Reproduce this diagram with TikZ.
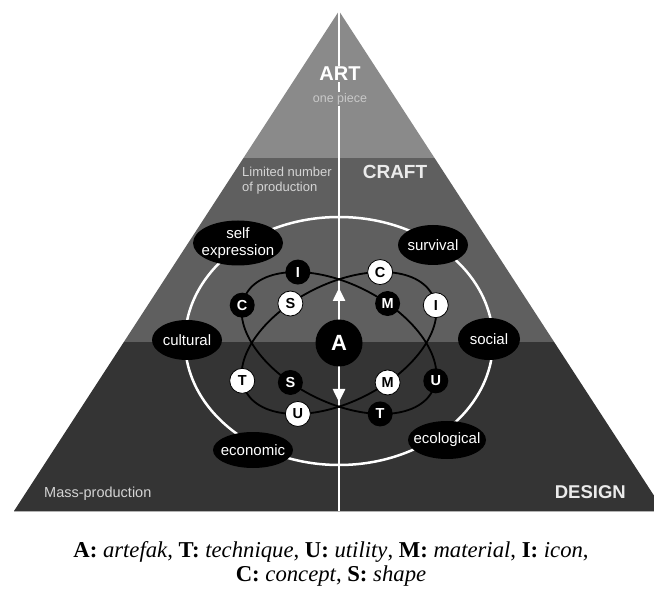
\documentclass[tikz,border=0pt]{standalone}
\usepackage{fontspec}
\setmainfont{Liberation Serif}
\setsansfont{Liberation Sans}
\usetikzlibrary{calc}
\usetikzlibrary{arrows.meta}
\usetikzlibrary{shapes.geometric}
\definecolor{artgray}{RGB}{138,138,138}
\definecolor{craftgray}{RGB}{95,95,95}
\definecolor{designgray}{RGB}{52,52,52}
\definecolor{softwhite}{RGB}{212,212,212}

\begin{document}
\begin{tikzpicture}[x=1pt, y=1pt,
  blackdot/.style={circle, fill=black, text=white, minimum size=25pt, inner sep=0, font=\sffamily\bfseries\fontsize{14.5}{14.5}\selectfont},
  whitedot/.style={circle, fill=white, draw=black, line width=.8pt, text=black, minimum size=25pt, inner sep=0, font=\sffamily\bfseries\fontsize{14.5}{14.5}\selectfont},
  value/.style={ellipse, fill=black, text=white, inner xsep=-6pt, inner ysep=0, font=\sffamily\fontsize{15}{17}\selectfont, align=center},
  orbit/.style={black, line width=1.8pt}]
\useasboundingbox (0,0) rectangle (654,590);
\coordinate (top) at (339,579);
\coordinate (bl) at (14,79);
\coordinate (br) at (664,79);
\coordinate (bm) at (339,79);
\begin{scope}
\clip (top)--(bl)--(br)--cycle;
\fill[designgray] (0,79) rectangle (664,248);
\fill[craftgray] (0,248) rectangle (664,432);
\fill[artgray] (0,432) rectangle (664,590);
\end{scope}
\draw[gray!60, line width=1pt] (bl)--(br);
\draw[white, line width=2.5pt] (top)--(bm);
% bands
\node[fill=artgray, text=white, inner sep=1, font=\sffamily\bfseries\fontsize{20}{20}\selectfont] (art) at (340,516) {ART};
\node[fill=artgray, text=softwhite!85!artgray, inner sep=1, font=\sffamily\fontsize{12.5}{12.5}\selectfont] (piece) at (340,491) {one piece};
\node[anchor=west, align=left, text=softwhite, inner sep=0, font=\sffamily\fontsize{13}{15}\selectfont] (limit) at (242,409) {Limited number\\of production};
\node[text=white!92!black, font=\sffamily\bfseries\fontsize{19}{19}\selectfont] (craft) at (395,418) {CRAFT};
\node[anchor=west, text=softwhite, inner sep=0, font=\sffamily\fontsize{14.5}{15}\selectfont] (mass) at (44,96) {Mass-production};
\node[anchor=east, text=white!92!black, inner sep=0, font=\sffamily\bfseries\fontsize{18.5}{18.5}\selectfont] (design) at (626,98) {DESIGN};
% values ring
\draw[white, line width=2.5pt] (339,249) ellipse [x radius=154, y radius=124];
\node[value, minimum width=90pt, minimum height=45pt] (self) at (238,347) {self\\expression};
\node[value, minimum width=70pt, minimum height=40pt] (surv) at (433,345) {survival};
\node[value, minimum width=70pt, minimum height=40pt] (cult) at (187,250) {cultural};
\node[value, minimum width=62pt, minimum height=42pt] (soc) at (489,251) {social};
\node[value, minimum width=80pt, minimum height=36pt] (econ) at (253,140) {economic};
\node[value, minimum width=78pt, minimum height=38pt] (ecol) at (447,150) {ecological};
% the two orbits
\draw[orbit, shift={(339,247)}, rotate=27] (0,0) ellipse [x radius=105, y radius=59];
\draw[orbit, shift={(339,247)}, rotate=-27] (0,0) ellipse [x radius=105, y radius=59];
\begin{scope}[shift={(339,247)}, rotate=27]
\foreach \t/\l/\n in {104/S/s, 49/C/c, -10/I/i, 284/M/m, 229/U/u, 170/T/t}
 \node[whitedot] (w\n) at (\t:105 and 59) {\l};
\end{scope}
\begin{scope}[shift={(339,247)}, rotate=-27]
\foreach \t/\l/\n in {131/I/i, 190/C/c, 76/M/m, 10/U/u, -49/T/t, 256/S/s}
 \node[blackdot] (b\n) at (\t:105 and 59) {\l};
\end{scope}
\node[circle, fill=black, text=white, minimum size=47pt, inner sep=0, font=\sffamily\bfseries\fontsize{22}{22}\selectfont] (A) at (339,247) {A};
\coordinate (up) at (339,302);
\coordinate (dn) at (339,188);
\draw[white, line width=2.5pt, -{Triangle[width=12pt,length=13pt]}] (A)--(up);
\draw[white, line width=2.5pt, -{Triangle[width=12pt,length=13pt]}] (A)--(dn);
% key
\node[align=center, inner sep=0, font=\fontsize{22.7}{24}\selectfont] (key) at (331,26)
 {\textbf{A:} \textit{artefak}, \textbf{T:} \textit{technique}, \textbf{U:} \textit{utility}, \textbf{M:} \textit{material}, \textbf{I:} \textit{icon},\\
  \textbf{C:} \textit{concept}, \textbf{S:} \textit{shape}};
\end{tikzpicture}
\end{document}
